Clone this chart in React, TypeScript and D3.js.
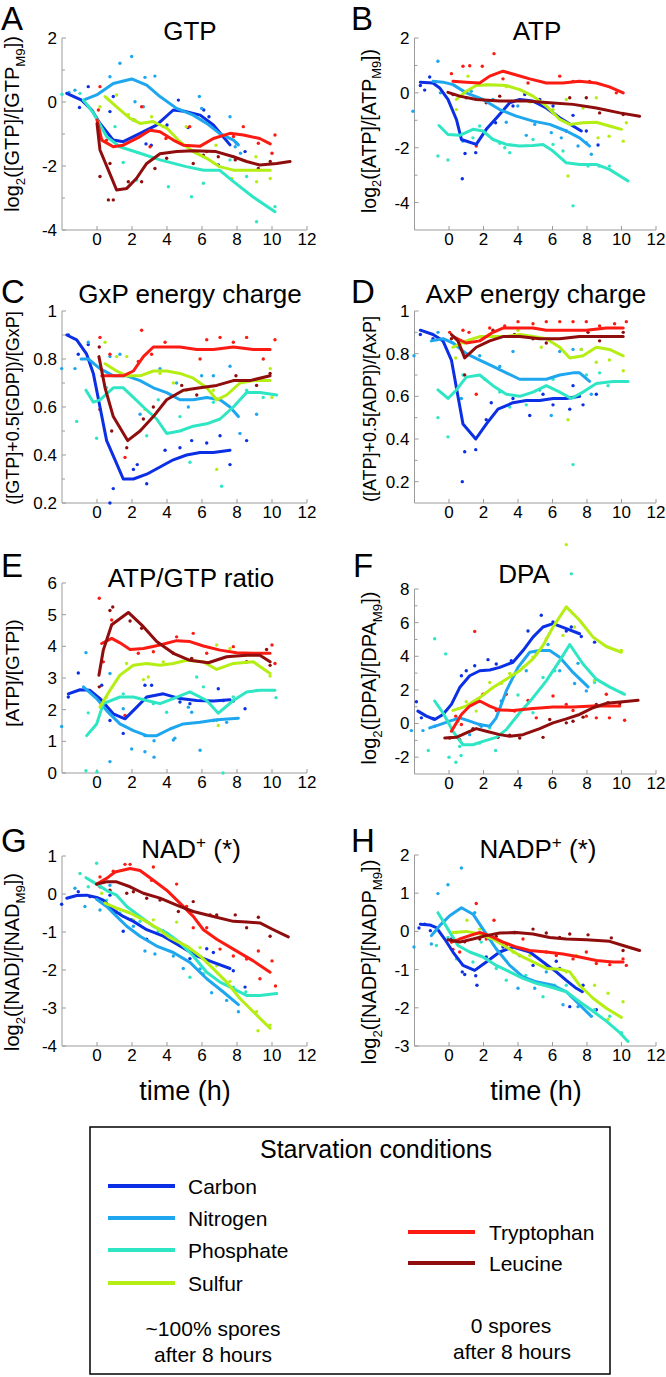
import React from 'react';
import * as d3 from 'd3';

const FONT = '"Liberation Sans", Arial, Helvetica, sans-serif';
const SERIES = ['Carbon', 'Nitrogen', 'Phosphate', 'Sulfur', 'Tryptophan', 'Leucine'];
const COLORS = ['#0b2fe4', '#1ea7ee', '#2fe6c4', '#b5ee14', '#fb1b12', '#8f0d0d'];
const X_TICKS = [0, 2, 4, 6, 8, 10, 12];
const X_DOMAIN: [number, number] = [-2, 12];

type P = [number, number];

// ---------- A: GTP ----------
const gtpLines: P[][] = [
  [[-1.73, 0.27], [-0.88, 0.06], [-0.3, -0.25], [0.17, -0.67], [0.93, -1.19], [1.5, -1.24], [2.46, -0.98], [3.4, -0.72], [4.36, -0.25], [5.1, -0.3], [5.9, -0.41], [6.65, -0.72], [7.2, -1.08], [7.6, -1.34]],
  [[-0.78, 0.06], [-0.02, 0.22], [0.93, 0.58], [1.98, 0.72], [2.84, 0.53], [3.6, 0.17], [4.55, -0.2], [5.5, -0.41], [6.27, -0.67], [7.0, -0.98], [7.8, -1.19], [8.08, -1.34]],
  [[-0.78, 0.06], [-0.2, -0.35], [0.55, -1.08], [1.3, -1.4], [2.46, -1.6], [3.6, -1.81], [5.1, -2.02], [6.1, -2.13], [7.0, -2.13], [7.8, -2.49], [8.9, -2.96], [10.17, -3.43]],
  [[0.46, 0.17], [1.12, -0.15], [1.89, -0.51], [2.46, -0.67], [3.2, -0.61], [4.0, -0.82], [4.74, -1.24], [5.5, -1.55], [6.27, -1.76], [7.0, -2.02], [7.8, -2.13], [8.9, -2.13], [9.9, -2.13]],
  [[0, -0.56], [0.27, -1.19], [0.93, -1.4], [1.5, -1.35], [2.46, -1.08], [3.03, -0.88], [3.6, -0.93], [4.36, -1.19], [4.93, -1.35], [5.9, -1.38], [6.65, -1.14], [7.6, -0.98], [8.36, -1.03], [9.3, -1.14], [9.9, -1.31]],
  [[0, -0.67], [0.17, -1.5], [0.65, -2.13], [1.12, -2.75], [1.7, -2.7], [2.25, -2.39], [2.84, -1.92], [3.6, -1.62], [4.55, -1.55], [5.5, -1.52], [6.8, -1.55], [7.8, -1.71], [8.55, -1.86], [9.3, -1.97], [10.27, -1.92], [11.03, -1.86]],
];
const gtpDots: P[][] = [
  [[-1.0, -0.17], [-0.5, 0.48], [0.74, -0.3], [0.93, 0.17], [2.08, -0.56], [2.8, -1.31], [3.1, -1.35], [4.0, -0.72], [4.65, 0.06], [5.2, -0.8], [6.1, -0.25], [6.4, -0.46], [6.93, -1.97], [7.98, -1.29], [8.46, -1.55]],
  [[-1.26, 0.37], [-1.6, 0.3], [0.74, 0.79], [1.31, 1.21], [1.98, 1.42], [2.74, 0.77], [3.31, 0.81], [2.17, 0.01], [2.65, -0.15], [4.74, -0.25], [5.85, 0.17], [5.98, -0.2], [7.6, -0.46], [7.9, -1.4], [8.2, -1.6]],
  [[-2.0, 0.24], [-0.97, 0.27], [1.03, -0.77], [1.5, -1.89], [2.27, -2.44], [4.08, -2.65], [5.4, -2.96], [6.08, -2.54], [7.6, -1.81], [8.55, -2.33], [9.12, -3.74], [10.17, -3.27]],
  [[0.17, -0.15], [1.12, 0.22], [1.79, -0.4], [2.17, -0.56], [3.12, -0.46], [3.79, -0.77], [5.1, -0.77], [5.7, -1.6], [6.8, -1.35], [7.7, -2.39], [9.08, -1.71], [9.12, -2.49], [9.9, -2.39]],
  [[0.08, -0.25], [0.17, 0.48], [0.55, -1.19], [2.55, -0.15], [3.03, -1.4], [3.94, -1.14], [5.3, -0.77], [6.27, -1.55], [7.8, -1.08], [8.36, -0.77], [9.22, -1.29], [10.17, -1.03], [10.0, -1.6]],
  [[0.17, -2.33], [0.74, -1.92], [0.65, -3.06], [0.93, -3.06], [1.79, -2.49], [2.55, -2.49], [3.31, -2.08], [3.98, -1.76], [5.5, -1.92], [6.08, -1.66], [6.93, -1.71], [7.9, -1.81], [9.22, -2.08], [9.9, -1.86]],
];

// ---------- B: ATP ----------
const atpLines: P[][] = [
  [[-1.66, 0.39], [-0.93, 0.36], [-0.54, 0.18], [-0.06, -0.24], [0.43, -0.97], [0.72, -1.7], [1.58, -1.88], [2.16, -1.33], [2.84, -0.85], [3.52, -0.36], [4.1, -0.24], [4.87, -0.3], [5.64, -0.55], [6.42, -0.91], [7.19, -1.21], [7.67, -1.39]],
  [[-0.93, 0.42], [-0.35, 0.39], [0.23, 0.3], [1.0, 0.0], [1.97, -0.24], [2.94, -0.61], [3.9, -0.85], [4.87, -1.03], [5.84, -1.15], [6.8, -1.39], [7.57, -1.64], [8.15, -1.94]],
  [[-0.58, -1.19], [-0.06, -1.52], [0.62, -1.55], [1.39, -1.33], [1.97, -1.39], [2.55, -1.7], [3.32, -1.88], [4.1, -1.94], [4.87, -1.92], [5.45, -1.88], [6.03, -2.12], [6.8, -2.55], [7.57, -2.61], [8.54, -2.61], [9.3, -2.79], [10.38, -3.21]],
  [[0.43, -0.24], [1.0, 0.06], [1.58, 0.27], [2.36, 0.3], [3.3, 0.27], [4.1, 0.12], [4.87, -0.12], [5.64, -0.48], [6.42, -0.97], [7.0, -1.15], [7.77, -1.09], [8.54, -1.07], [9.3, -1.21], [10.0, -1.33]],
  [[0.23, 0.42], [1.0, 0.39], [1.78, 0.36], [2.36, 0.61], [3.13, 0.79], [3.8, 0.67], [4.68, 0.51], [5.64, 0.36], [6.6, 0.36], [7.57, 0.42], [8.54, 0.36], [9.3, 0.22], [10.1, 0.0]],
  [[-0.06, 0.02], [0.62, -0.12], [1.58, -0.24], [2.94, -0.3], [4.48, -0.3], [5.84, -0.36], [7.19, -0.42], [8.54, -0.55], [9.9, -0.73], [11.05, -0.85]],
];
const atpDots: P[][] = [
  [[-1.66, 0.27], [-1.41, 0.1], [-1.12, 0.58], [0.77, -3.13], [0.93, -2.21], [1.55, -2.18], [2.7, -1.09], [3.71, -0.48], [4.39, -0.06], [5.26, -0.24], [6.03, -0.48], [6.8, -1.39], [7.19, -0.82], [7.96, -1.39], [8.64, -1.9]],
  [[-2.09, -0.67], [-0.64, 1.15], [-0.5, 0.0], [0.81, -1.76], [1.29, 0.06], [2.55, -0.24], [3.32, -1.07], [3.99, -0.48], [4.48, -1.55], [4.97, -1.15], [5.93, -1.45], [6.51, -1.64], [7.48, -1.94], [8.25, -2.24], [7.96, -1.82]],
  [[-0.64, -2.3], [-0.06, -2.45], [1.39, -1.64], [1.78, -1.21], [2.94, -1.84], [3.23, -2.0], [3.52, -2.18], [4.87, -1.7], [6.03, -1.88], [6.61, -2.12], [7.19, -4.12], [8.06, -2.67], [8.7, -2.67], [9.3, -2.67]],
  [[0.43, -0.61], [1.1, 0.61], [2.16, 0.3], [3.32, 0.22], [4.68, -0.33], [6.03, -0.61], [6.8, -0.24], [7.77, -0.55], [8.54, -0.18], [8.64, -1.64], [9.28, -1.58], [10.1, -1.76], [10.28, -1.09], [6.9, -3.03]],
  [[0.14, 0.7], [0.81, 0.97], [1.2, 0.99], [1.93, 0.97], [2.61, 1.43], [3.13, 0.51], [4.58, 0.36], [6.42, 0.61], [7.19, 0.42], [8.15, 0.42], [9.7, 0.0], [1.58, -1.94]],
  [[0.23, -0.06], [1.0, -0.18], [2.16, -0.36], [2.94, -0.12], [5.26, -0.36], [7.0, -0.18], [7.96, -0.18], [8.73, -0.73], [10.1, -0.79]],
];

// ---------- C: GxP energy charge ----------
const gxpLines: P[][] = [
  [[-1.73, 0.9], [-1.16, 0.88], [-0.59, 0.82], [-0.21, 0.74], [0.17, 0.6], [0.55, 0.46], [1.03, 0.38], [1.5, 0.3], [2.08, 0.3], [2.84, 0.32], [3.6, 0.35], [4.36, 0.38], [5.12, 0.4], [5.89, 0.41], [6.65, 0.41], [7.6, 0.42]],
  [[-0.91, 0.8], [-0.5, 0.8], [0.17, 0.76], [0.93, 0.73], [1.7, 0.73], [2.46, 0.71], [3.22, 0.68], [3.98, 0.66], [4.74, 0.63], [5.5, 0.63], [6.27, 0.64], [7.03, 0.63], [7.6, 0.6], [8.08, 0.56]],
  [[-0.63, 0.67], [-0.21, 0.62], [0.17, 0.63], [0.93, 0.68], [1.5, 0.68], [2.08, 0.64], [2.65, 0.6], [3.41, 0.55], [3.98, 0.49], [4.74, 0.5], [5.5, 0.52], [6.27, 0.53], [7.03, 0.55], [7.79, 0.6], [8.55, 0.66], [9.31, 0.66], [10.27, 0.65]],
  [[0.46, 0.78], [1.12, 0.75], [1.7, 0.73], [2.46, 0.73], [3.22, 0.75], [3.98, 0.75], [4.74, 0.74], [5.5, 0.72], [6.27, 0.68], [6.84, 0.63], [7.41, 0.65], [8.17, 0.7], [8.93, 0.71], [9.89, 0.71]],
  [[0.27, 0.73], [0.93, 0.73], [1.5, 0.73], [2.08, 0.75], [2.65, 0.81], [3.22, 0.85], [3.98, 0.85], [4.74, 0.85], [5.7, 0.84], [6.65, 0.84], [7.79, 0.85], [8.93, 0.84], [9.89, 0.84]],
  [[0.11, 0.81], [0.46, 0.68], [0.93, 0.56], [1.75, 0.46], [2.46, 0.5], [3.22, 0.56], [3.98, 0.63], [4.93, 0.67], [5.89, 0.68], [6.84, 0.69], [7.79, 0.71], [8.74, 0.71], [9.89, 0.73]],
];
const gxpDots: P[][] = [
  [[-1.64, 0.9], [-1.07, 0.82], [-0.5, 0.86], [0.74, 0.2], [0.93, 0.26], [2.08, 0.34], [2.3, 0.36], [2.84, 0.28], [3.89, 0.42], [4.74, 0.43], [5.41, 0.46], [6.27, 0.45], [7.03, 0.48], [7.6, 0.36], [8.55, 0.46]],
  [[-2.02, 0.76], [-1.26, 0.76], [-0.5, 0.87], [0.74, 0.81], [1.31, 0.82], [2.46, 0.57], [3.6, 0.76], [4.55, 0.7], [5.22, 0.6], [5.98, 0.73], [6.65, 0.73], [7.6, 0.77], [8.17, 0.49], [9.12, 0.57]],
  [[-1.16, 0.54], [-0.02, 0.47], [0.55, 0.68], [2.84, 0.48], [3.5, 0.63], [4.74, 0.56], [5.31, 0.37], [6.65, 0.62], [7.12, 0.27], [8.55, 0.67], [9.5, 0.64]],
  [[0.46, 0.87], [1.12, 0.81], [1.7, 0.81], [2.74, 0.59], [3.6, 0.74], [4.36, 0.7], [5.12, 0.67], [6.65, 0.67], [6.84, 0.34], [7.79, 0.71], [9.12, 0.71], [10.0, 0.64], [9.9, 0.76]],
  [[0.17, 0.89], [0.74, 0.82], [1.6, 0.39], [2.36, 0.79], [2.55, 0.92], [3.12, 0.82], [3.89, 0.87], [5.89, 0.8], [6.27, 0.88], [7.03, 0.89], [7.79, 0.87], [8.55, 0.89], [9.5, 0.8], [10.17, 0.88]],
  [[0.13, 0.85], [0.17, 0.59], [0.84, 0.5], [1.7, 0.43], [2.65, 0.55], [3.22, 0.6], [4.84, 0.69], [5.7, 0.65], [7.94, 0.73], [9.12, 0.69], [9.89, 0.74]],
];

// ---------- D: AxP energy charge ----------
const axpLines: P[][] = [
  [[-1.66, 0.91], [-0.93, 0.89], [-0.35, 0.86], [0.14, 0.77], [0.81, 0.47], [1.55, 0.4], [2.16, 0.47], [2.84, 0.54], [3.71, 0.57], [4.48, 0.58], [5.26, 0.58], [6.03, 0.59], [6.8, 0.59], [7.57, 0.6]],
  [[-1.02, 0.86], [-0.35, 0.87], [0.23, 0.85], [1.0, 0.8], [1.78, 0.77], [2.55, 0.74], [3.32, 0.71], [4.1, 0.68], [4.87, 0.68], [5.64, 0.68], [6.42, 0.7], [7.19, 0.71], [7.57, 0.71], [8.15, 0.67]],
  [[-0.64, 0.63], [-0.06, 0.59], [0.43, 0.63], [1.0, 0.69], [1.78, 0.7], [2.55, 0.65], [3.32, 0.61], [4.1, 0.6], [4.87, 0.62], [5.64, 0.65], [6.42, 0.62], [7.09, 0.59], [7.77, 0.62], [8.54, 0.66], [9.5, 0.67], [10.38, 0.67]],
  [[0.23, 0.83], [1.0, 0.86], [1.78, 0.88], [2.55, 0.88], [3.32, 0.88], [4.1, 0.89], [4.87, 0.88], [5.64, 0.87], [6.42, 0.83], [7.0, 0.78], [7.77, 0.79], [8.54, 0.83], [9.3, 0.82], [10.1, 0.79]],
  [[0.23, 0.88], [1.0, 0.85], [1.78, 0.86], [2.55, 0.9], [3.13, 0.92], [4.1, 0.92], [4.87, 0.92], [5.64, 0.91], [6.8, 0.91], [7.96, 0.91], [9.12, 0.92], [10.1, 0.92]],
  [[0.14, 0.89], [0.52, 0.86], [0.91, 0.78], [1.58, 0.83], [2.36, 0.86], [3.13, 0.88], [4.1, 0.88], [5.26, 0.87], [6.42, 0.87], [7.57, 0.88], [8.73, 0.88], [10.1, 0.88]],
];
const axpDots: P[][] = [
  [[-1.66, 0.89], [-0.93, 0.87], [0.91, 0.34], [0.77, 0.2], [1.55, 0.35], [2.16, 0.49], [2.45, 0.57], [3.71, 0.59], [4.68, 0.51], [5.45, 0.61], [6.03, 0.56], [7.0, 0.54], [7.19, 0.65], [7.77, 0.56], [8.54, 0.61]],
  [[-2.03, 0.79], [-0.64, 0.9], [0.72, 0.59], [1.78, 0.79], [2.94, 0.74], [3.71, 0.81], [5.26, 0.63], [5.93, 0.51], [6.42, 0.81], [7.19, 0.82], [7.67, 0.82], [8.25, 0.61]],
  [[-0.64, 0.5], [-0.06, 0.41], [0.81, 0.7], [2.07, 0.68], [2.94, 0.62], [3.52, 0.55], [4.48, 0.56], [6.03, 0.68], [7.19, 0.28], [7.96, 0.7], [8.73, 0.71], [9.22, 0.65]],
  [[0.39, 0.78], [0.91, 0.85], [2.36, 0.89], [4.0, 0.91], [5.35, 0.83], [6.9, 0.49], [7.67, 0.82], [8.54, 0.76], [9.3, 0.77], [10.1, 0.72]],
  [[0.04, 0.9], [0.81, 0.91], [1.16, 0.9], [1.58, 0.61], [2.36, 0.92], [3.23, 0.93], [4.0, 0.95], [4.87, 0.94], [5.64, 0.95], [6.42, 0.95], [7.19, 0.95], [7.96, 0.95], [8.73, 0.93], [9.6, 0.94], [10.28, 0.95]],
  [[0.14, 0.87], [0.91, 0.7], [2.55, 0.91], [3.8, 0.89], [4.87, 0.87], [5.64, 0.85], [8.06, 0.9], [8.73, 0.86], [10.1, 0.9]],
];

// ---------- E: ATP/GTP ratio ----------
const ratioLines: P[][] = [
  [[-1.64, 2.5], [-0.97, 2.63], [-0.4, 2.61], [0.17, 2.35], [0.93, 1.87], [1.6, 1.71], [2.27, 2.08], [2.84, 2.4], [3.79, 2.5], [4.74, 2.35], [5.7, 2.29], [6.65, 2.27], [7.6, 2.31]],
  [[-0.78, 2.72], [-0.02, 2.35], [0.55, 1.97], [1.31, 1.55], [2.08, 1.34], [2.84, 1.18], [3.41, 1.18], [4.17, 1.39], [4.93, 1.55], [5.89, 1.6], [6.84, 1.68], [8.08, 1.73]],
  [[-0.59, 1.18], [-0.02, 1.55], [0.36, 2.19], [1.31, 2.4], [2.08, 2.4], [2.84, 2.29], [3.6, 2.19], [4.36, 2.35], [5.31, 2.56], [6.27, 2.29], [6.93, 1.89], [7.79, 2.29], [8.55, 2.56], [9.31, 2.61], [10.17, 2.61]],
  [[0.17, 2.08], [0.74, 2.61], [1.31, 3.09], [2.08, 3.4], [2.84, 3.46], [3.6, 3.4], [4.36, 3.46], [5.12, 3.56], [6.08, 3.51], [6.84, 3.27], [7.79, 3.46], [8.93, 3.51], [9.89, 3.14]],
  [[0.27, 4.09], [0.84, 4.25], [1.31, 4.11], [1.89, 3.9], [2.65, 3.93], [3.6, 4.04], [4.55, 4.18], [5.31, 4.15], [6.08, 4.01], [7.03, 3.88], [7.98, 3.8], [8.93, 3.78], [9.89, 3.78]],
  [[0.11, 3.09], [0.36, 3.88], [0.84, 4.68], [1.79, 5.07], [2.65, 4.62], [3.41, 4.15], [4.36, 3.78], [5.31, 3.56], [6.36, 3.48], [7.41, 3.67], [8.55, 3.72], [9.31, 3.72], [9.89, 3.51]],
];
const ratioDots: P[][] = [
  [[-1.64, 2.4], [-1.07, 3.16], [0.27, 2.77], [0.74, 1.66], [1.5, 1.25], [2.74, 2.77], [3.12, 2.77], [4.74, 2.24], [5.31, 2.19], [6.93, 2.66], [7.22, 2.29], [7.79, 2.27], [8.46, 2.03]],
  [[-2.02, 1.47], [-0.63, 3.8], [0.74, 3.14], [1.5, 2.03], [1.98, 0.76], [2.74, 1.18], [3.26, 1.02], [4.36, 1.04], [5.22, 2.08], [5.41, 1.92], [5.89, 0.72], [6.65, 1.66], [7.41, 1.6], [0.74, 0.36], [2.74, 0.67], [3.26, 0.5], [4.45, 1.1]],
  [[1.5, 2.5], [3.22, 2.19], [3.98, 1.92], [5.7, 3.03], [6.08, 2.72], [6.84, 1.66], [7.79, 2.4], [9.12, 2.61], [10.23, 2.38], [-0.63, 0.07], [0.0, 0.04], [7.2, 0.0], [-0.5, 1.9]],
  [[0.55, 2.4], [1.69, 3.46], [2.65, 2.95], [2.93, 3.03], [3.79, 3.51], [5.22, 3.56], [6.84, 4.04], [6.93, 1.5], [7.6, 3.93], [8.46, 3.72], [9.89, 3.06]],
  [[0.13, 5.52], [0.36, 3.51], [0.84, 4.83], [1.6, 1.82], [2.36, 3.78], [3.22, 3.83], [4.55, 4.3], [5.5, 4.41], [6.27, 3.78], [7.79, 3.99], [8.55, 3.51], [10.0, 4.04], [10.17, 3.46]],
  [[0.13, 2.72], [0.74, 5.13], [0.9, 5.24], [1.89, 4.8], [2.55, 4.57], [4.36, 3.78], [5.41, 3.62], [6.36, 3.46], [8.55, 3.51], [9.69, 3.9], [9.89, 3.4]],
];

// ---------- F: DPA ----------
const dpaLines: P[][] = [
  [[-1.8, 0.74], [-1.31, 0.44], [-0.83, 0.24], [-0.35, 0.54], [0.14, 1.14], [0.62, 2.14], [1.2, 2.84], [1.78, 3.14], [2.36, 3.18], [2.94, 3.34], [3.71, 3.64], [4.29, 4.34], [4.87, 5.14], [5.45, 5.74], [6.03, 5.94], [6.8, 5.64], [7.57, 5.34]],
  [[-1.12, -0.26], [-0.54, -0.06], [0.04, 0.14], [0.62, 0.34], [1.2, 0.14], [1.78, -0.06], [2.36, -0.16], [2.74, 0.34], [3.32, 1.94], [4.0, 3.34], [4.68, 4.24], [5.26, 4.34], [5.84, 4.34], [6.42, 3.94], [7.19, 3.04], [8.06, 2.18]],
  [[-0.83, 1.34], [-0.35, 0.64], [0.23, -0.46], [0.81, -1.26], [1.39, -1.26], [1.97, -1.06], [2.74, -0.82], [3.32, -0.36], [4.1, 0.64], [4.87, 1.54], [5.64, 2.54], [6.42, 3.74], [7.0, 4.7], [7.77, 3.54], [8.54, 2.64], [9.3, 2.18], [10.18, 1.74]],
  [[0.23, 0.78], [1.0, 1.04], [1.78, 1.54], [2.55, 2.14], [3.32, 2.64], [4.1, 3.14], [4.87, 3.84], [5.45, 4.64], [6.03, 5.74], [6.8, 6.94], [7.57, 6.14], [8.35, 5.14], [9.12, 4.58], [9.99, 4.24]],
  [[0.14, -0.46], [0.72, 0.54], [1.2, 1.04], [1.78, 1.34], [2.36, 1.04], [2.94, 0.8], [3.71, 0.78], [4.87, 0.9], [6.03, 0.98], [7.19, 0.98], [8.35, 1.04], [9.9, 1.04]],
  [[-0.25, -0.86], [0.43, -0.82], [1.0, -0.56], [1.58, -0.3], [2.16, -0.46], [2.94, -0.66], [3.52, -0.76], [4.29, -0.66], [5.26, -0.3], [6.03, 0.04], [6.8, 0.28], [7.57, 0.54], [8.35, 0.94], [9.12, 1.2], [10.09, 1.3], [10.96, 1.38]],
];
const dpaDots: P[][] = [
  [[-1.89, 1.3], [-1.6, 0.34], [-0.93, 0.3], [0.72, 2.84], [1.0, 3.14], [1.49, 3.44], [2.26, 3.8], [2.74, 3.54], [3.61, 3.74], [4.58, 5.5], [5.35, 6.44], [6.03, 6.04], [6.8, 5.5], [7.09, 5.74], [7.67, 5.18], [8.44, 4.84]],
  [[-2.18, -0.42], [-1.51, -0.42], [-0.83, -0.16], [-0.06, 0.14], [1.2, -0.66], [1.87, -0.16], [3.03, 1.34], [3.8, 2.94], [4.48, 3.14], [5.06, 4.14], [5.74, 4.7], [6.42, 3.14], [7.28, 2.38], [7.96, 1.94], [7.48, 3.58]],
  [[-0.83, 5.04], [-0.19, 4.14], [0.52, 0.14], [0.62, -1.36], [1.78, -1.16], [2.36, -0.26], [4.0, 1.7], [4.87, 0.64], [5.45, 2.74], [6.13, 3.14], [7.09, 8.9], [8.44, 2.44], [9.99, 1.84], [-1.2, -1.6], [0.0, -2.0], [0.4, -2.3], [0.7, -1.9], [2.7, -1.6]],
  [[1.0, 1.3], [1.58, 0.74], [2.36, 2.44], [3.03, 2.38], [3.52, 2.98], [4.29, 3.34], [4.87, 3.94], [5.64, 5.04], [6.61, 5.24], [6.8, 10.64], [7.28, 5.74], [8.44, 2.58], [9.99, 4.34]],
  [[0.39, 0.44], [0.72, -0.06], [1.49, 5.48], [1.97, 1.74], [2.74, 0.78], [3.32, 1.74], [3.8, 0.74], [4.58, 1.38], [5.06, 0.34], [6.03, 1.64], [6.8, 1.14], [7.19, 0.78], [7.96, 0.44], [8.54, 0.34], [9.12, 1.74], [9.3, 0.34], [10.18, 0.2]],
  [[0.04, -0.86], [0.62, -0.96], [1.39, -0.3], [1.78, -0.06], [2.84, -0.82], [3.52, -0.7], [4.1, -0.86], [5.45, -0.82], [5.84, 0.24], [6.8, 0.04], [7.19, 0.14], [7.77, 0.38], [8.54, 1.14], [9.22, 1.24], [9.9, 1.18]],
];

// ---------- G: NAD+ ----------
const nadLines: P[][] = [
  [[-1.73, -0.11], [-1.16, -0.04], [-0.59, -0.03], [-0.02, -0.09], [0.36, -0.16], [0.93, -0.42], [1.5, -0.59], [2.08, -0.72], [2.84, -0.94], [3.79, -1.11], [4.74, -1.37], [5.7, -1.63], [6.65, -1.8], [7.6, -1.96]],
  [[-0.02, -0.14], [0.55, -0.33], [1.12, -0.59], [1.7, -0.85], [2.46, -1.11], [3.41, -1.37], [4.36, -1.54], [5.31, -1.8], [6.27, -2.23], [7.22, -2.58], [8.08, -2.91]],
  [[-0.63, 0.43], [-0.02, 0.26], [0.55, 0.09], [1.12, -0.03], [1.7, -0.33], [2.46, -0.59], [3.22, -0.85], [3.98, -1.02], [4.74, -1.28], [5.5, -1.63], [6.27, -2.06], [7.03, -2.32], [7.79, -2.49], [8.55, -2.67], [9.31, -2.67], [10.27, -2.62]],
  [[0.46, -0.24], [1.12, -0.37], [1.89, -0.5], [2.65, -0.68], [3.41, -0.89], [4.17, -1.15], [5.12, -1.37], [5.89, -1.63], [6.65, -1.97], [7.41, -2.32], [8.17, -2.75], [8.93, -3.1], [9.89, -3.53]],
  [[-0.02, 0.26], [0.55, 0.41], [1.03, 0.58], [1.89, 0.67], [2.46, 0.62], [3.22, 0.36], [3.98, 0.1], [4.74, -0.24], [5.5, -0.59], [6.08, -0.94], [6.84, -1.19], [7.79, -1.45], [8.93, -1.76], [9.89, -2.06]],
  [[-0.02, 0.26], [0.55, 0.32], [1.12, 0.32], [1.89, 0.19], [2.65, 0.02], [3.6, -0.11], [4.55, -0.29], [5.5, -0.46], [6.65, -0.59], [7.79, -0.72], [8.55, -0.74], [9.31, -0.76], [10.08, -0.94], [10.93, -1.13]],
];
const nadDots: P[][] = [
  [[-2.02, -0.27], [-1.07, 0.06], [-0.4, -0.07], [0.74, -0.03], [1.03, -0.5], [1.5, -0.98], [1.98, -0.68], [2.84, -1.19], [3.79, -0.98], [5.31, -1.7], [6.27, -1.44], [6.65, -1.54], [7.79, -2.02], [8.46, -2.45]],
  [[-1.26, 0.15], [-0.69, -0.33], [0.17, -0.42], [0.74, 0.23], [2.08, -0.85], [2.74, -1.5], [3.31, -1.58], [4.36, -1.63], [4.93, -1.96], [5.89, -1.97], [6.55, -2.6], [7.41, -2.8], [8.08, -3.1]],
  [[-0.97, 0.54], [-0.02, 0.81], [-0.5, 0.19], [0.55, -0.16], [1.31, -0.5], [2.46, -0.72], [3.5, -0.98], [4.74, -1.35], [5.31, -2.19], [6.08, -2.1], [7.79, -2.45], [8.5, -2.58]],
  [[0.27, 0.02], [0.74, -0.33], [1.12, -0.42], [2.08, -0.68], [3.22, -0.68], [3.98, -1.11], [4.55, -0.74], [5.89, -1.41], [6.84, -1.89], [7.6, -2.3], [9.12, -3.1], [9.89, -3.45], [9.2, -3.6]],
  [[0.17, 0.45], [0.93, 0.6], [1.6, 0.78], [1.89, 0.78], [3.22, 0.71], [3.12, 0.36], [4.55, 0.26], [5.12, -0.33], [5.5, -0.89], [6.27, -0.89], [7.03, -1.45], [7.79, -1.63], [8.55, -1.71], [9.22, -1.5], [9.31, -2.23], [10.0, -1.76], [10.2, -2.42]],
  [[0.17, 0.19], [0.74, 0.1], [1.7, 0.02], [2.08, 0.06], [2.84, -0.11], [3.6, -0.16], [4.65, -0.46], [5.5, -0.2], [6.46, -0.55], [6.84, -0.55], [7.9, -0.55], [8.55, -0.89], [9.22, -0.61], [9.89, -1.11]],
];

// ---------- H: NADP+ ----------
const nadpLines: P[][] = [
  [[-1.66, 0.19], [-1.12, 0.17], [-0.73, 0.1], [-0.25, -0.2], [0.23, -0.54], [0.81, -0.89], [1.49, -1.02], [2.16, -0.8], [2.94, -0.54], [3.71, -0.41], [4.68, -0.54], [5.45, -0.8], [6.22, -1.06], [6.8, -1.28], [7.38, -1.49], [7.73, -1.58]],
  [[-1.02, -0.11], [-0.54, 0.15], [0.04, 0.41], [0.72, 0.62], [1.39, 0.45], [1.97, 0.06], [2.74, -0.46], [3.52, -0.89], [4.29, -1.19], [5.06, -1.32], [6.03, -1.41], [6.8, -1.58], [7.57, -1.92], [8.15, -2.18]],
  [[-0.64, 0.49], [-0.06, 0.06], [0.52, -0.37], [1.2, -0.54], [1.97, -0.67], [2.74, -0.89], [3.52, -1.06], [4.29, -1.23], [5.06, -1.36], [5.84, -1.45], [6.8, -1.58], [7.57, -1.84], [8.35, -2.09], [9.12, -2.35], [9.9, -2.65], [10.38, -2.88]],
  [[0.23, -0.03], [1.0, 0.0], [1.78, -0.07], [2.55, -0.2], [3.32, -0.41], [4.1, -0.63], [4.87, -0.8], [5.64, -0.97], [6.42, -0.99], [7.0, -1.06], [7.57, -1.41], [8.35, -1.75], [9.12, -2.01], [9.99, -2.25]],
  [[0.14, -0.28], [0.62, -0.2], [1.2, -0.11], [1.78, -0.03], [2.36, -0.11], [3.13, -0.28], [3.9, -0.41], [4.68, -0.5], [5.64, -0.54], [6.61, -0.59], [7.57, -0.67], [8.54, -0.76], [9.5, -0.8], [10.09, -0.8]],
  [[-0.06, -0.22], [0.62, -0.28], [1.39, -0.2], [2.16, -0.11], [2.94, -0.04], [3.9, -0.03], [4.87, -0.07], [5.84, -0.16], [6.8, -0.2], [7.96, -0.22], [9.31, -0.26], [10.09, -0.37], [11.05, -0.5]],
];
const nadpDots: P[][] = [
  [[-1.74, 0.09], [-1.41, 0.19], [-1.08, 0.02], [0.14, -0.2], [0.77, -1.06], [0.91, -1.13], [1.55, -1.16], [1.62, -1.41], [2.16, -0.67], [3.13, -0.41], [3.81, -0.03], [4.1, -0.63], [4.87, -0.89], [6.22, -0.78], [6.42, -0.97], [7.0, -1.97], [7.77, -1.41], [8.54, -2.05]],
  [[-2.03, -0.41], [-1.02, -0.33], [-0.64, 0.99], [-0.06, 1.22], [0.72, 1.66], [1.49, 0.49], [2.36, -0.2], [3.71, -0.03], [4.0, -1.49], [4.97, -1.49], [5.64, -1.06], [6.61, -1.92], [7.48, -1.97], [8.25, -2.22]],
  [[-0.73, -0.37], [-0.06, -0.16], [0.43, -0.72], [1.39, -0.8], [1.87, -0.28], [2.74, -0.97], [3.32, -1.28], [4.45, -1.15], [5.45, -1.71], [6.13, -1.41], [6.8, -1.41], [8.44, -2.05], [9.32, -2.22], [10.0, -2.65]],
  [[0.43, -0.03], [1.04, 0.29], [1.78, 0.06], [2.55, -0.16], [3.71, -0.54], [4.68, -0.63], [5.64, -0.89], [6.8, -1.06], [7.38, -0.63], [8.44, -1.41], [9.22, -1.62], [10.09, -1.84], [9.22, -2.3]],
  [[0.23, -0.47], [0.62, -0.54], [1.58, 0.73], [2.16, -0.2], [2.61, 0.29], [3.32, -0.37], [4.29, -0.2], [5.64, -0.54], [6.22, -0.63], [7.19, -0.72], [7.96, -0.54], [8.54, -0.84], [9.32, -0.87], [10.09, -0.72], [10.28, -0.89]],
  [[0.14, -0.27], [0.91, -0.27], [1.78, -0.2], [2.74, -0.13], [3.81, -0.03], [4.87, 0.06], [5.64, -0.04], [6.42, -0.16], [7.0, -0.07], [8.06, -0.09], [9.41, -0.17], [10.09, -0.5]],
];

// ---------- tick values ----------
const gtpTicks = [-4, -2, 0, 2];
const atpTicks = [-4, -2, 0, 2];
const chargeTicks = [0.2, 0.4, 0.6, 0.8, 1];
const ratioTicks = [0, 1, 2, 3, 4, 5, 6];
const dpaTicks = [-2, 0, 2, 4, 6, 8];
const nadTicks = [-4, -3, -2, -1, 0, 1];
const nadpTicks = [-3, -2, -1, 0, 1, 2];

type Seg = [string, 'n' | 'sub' | 'sup'];

interface PanelCfg {
  letter: string;
  letterX: number;
  letterY: number;
  title: Seg[];
  titleX: number;
  titleY: number;
  xRange: [number, number];
  yDomain: [number, number];
  yRange: [number, number];
  ticks: number[];
  minor: number[];
  ylabel: Seg[];
  ylabelX: number;
  ylabelY: number;
  ylabelSize: number;
  lines: P[][];
  dots: P[][];
}

const LEFT: [number, number] = [62, 307];
const RIGHT: [number, number] = [414.5, 656];

const PANELS: PanelCfg[] = [
  { letter: 'A', letterX: 1, letterY: 30, title: [['GTP', 'n']], titleX: 190, titleY: 40, xRange: LEFT, yDomain: [-4, 2], yRange: [230, 38], ticks: gtpTicks, minor: [-3, -1, 1], ylabel: [['log', 'n'], ['2', 'sub'], ['([GTP]/[GTP', 'n'], ['M9', 'sub'], ['])', 'n']], ylabelX: 19, ylabelY: 124, ylabelSize: 20, lines: gtpLines, dots: gtpDots },
  { letter: 'B', letterX: 351, letterY: 30, title: [['ATP', 'n']], titleX: 537, titleY: 40, xRange: RIGHT, yDomain: [-5, 2], yRange: [230, 38], ticks: atpTicks, minor: [-3, -1, 1], ylabel: [['log', 'n'], ['2', 'sub'], ['([ATP]/[ATP', 'n'], ['M9', 'sub'], ['])', 'n']], ylabelX: 376, ylabelY: 131, ylabelSize: 19.5, lines: atpLines, dots: atpDots },
  { letter: 'C', letterX: 1, letterY: 303, title: [['GxP energy charge', 'n']], titleX: 190, titleY: 303, xRange: LEFT, yDomain: [0.2, 1], yRange: [503, 311], ticks: chargeTicks, minor: [0.3, 0.5, 0.7, 0.9], ylabel: [['([GTP]+0.5[GDP])/[GxP]', 'n']], ylabelX: 19, ylabelY: 408, ylabelSize: 18, lines: gxpLines, dots: gxpDots },
  { letter: 'D', letterX: 351, letterY: 303, title: [['AxP energy charge', 'n']], titleX: 536, titleY: 303, xRange: RIGHT, yDomain: [0.1, 1], yRange: [503, 311], ticks: chargeTicks, minor: [0.3, 0.5, 0.7, 0.9], ylabel: [['([ATP]+0.5[ADP])/[AxP]', 'n']], ylabelX: 376, ylabelY: 409, ylabelSize: 18, lines: axpLines, dots: axpDots },
  { letter: 'E', letterX: 1, letterY: 577, title: [['ATP/GTP ratio', 'n']], titleX: 191, titleY: 587, xRange: LEFT, yDomain: [0, 6], yRange: [773, 583], ticks: ratioTicks, minor: [], ylabel: [['[ATP]/[GTP])', 'n']], ylabelX: 19, ylabelY: 673, ylabelSize: 19, lines: ratioLines, dots: ratioDots },
  { letter: 'F', letterX: 353, letterY: 577, title: [['DPA', 'n']], titleX: 524, titleY: 583, xRange: RIGHT, yDomain: [-3, 8], yRange: [774, 589], ticks: dpaTicks, minor: [-1, 1, 3, 5, 7], ylabel: [['log', 'n'], ['2', 'sub'], ['([DPA]/[DPA', 'n'], ['M9', 'sub'], ['])', 'n']], ylabelX: 376, ylabelY: 678, ylabelSize: 20, lines: dpaLines, dots: dpaDots },
  { letter: 'G', letterX: 1, letterY: 852, title: [['NAD', 'n'], ['+', 'sup'], [' (*)', 'n']], titleX: 191, titleY: 858, xRange: LEFT, yDomain: [-4, 1], yRange: [1046, 856], ticks: nadTicks, minor: [], ylabel: [['log', 'n'], ['2', 'sub'], ['([NAD]/[NAD', 'n'], ['M9', 'sub'], ['])', 'n']], ylabelX: 19, ylabelY: 962, ylabelSize: 20, lines: nadLines, dots: nadDots },
  { letter: 'H', letterX: 351, letterY: 852, title: [['NADP', 'n'], ['+', 'sup'], [' (*)', 'n']], titleX: 538, titleY: 858, xRange: RIGHT, yDomain: [-3, 2], yRange: [1046, 855], ticks: nadpTicks, minor: [], ylabel: [['log', 'n'], ['2', 'sub'], ['([NADP]/[NADP', 'n'], ['M9', 'sub'], ['])', 'n']], ylabelX: 376, ylabelY: 962, ylabelSize: 20, lines: nadpLines, dots: nadpDots },
];

const LEFT_LEGEND = [0, 1, 2, 3];
const RIGHT_LEGEND = [4, 5];

function rich(segs: Seg[], size: number) {
  let cur = 0;
  return segs.map(([txt, kind], i) => {
    const target = kind === 'sub' ? size * 0.28 : kind === 'sup' ? -size * 0.4 : 0;
    const dy = target - cur;
    cur = target;
    return (
      <tspan key={i} dy={dy} fontSize={kind === 'n' ? size : size * 0.66}>
        {txt}
      </tspan>
    );
  });
}

const AXIS = '#9b9b9b';

function Panel({ cfg }: { cfg: PanelCfg }) {
  const x = d3.scaleLinear().domain(X_DOMAIN).range(cfg.xRange);
  const y = d3.scaleLinear().domain(cfg.yDomain).range(cfg.yRange);
  const line = d3
    .line<P>()
    .x((d) => x(d[0]))
    .y((d) => y(d[1]))
    .curve(d3.curveLinear);
  const x0 = cfg.xRange[0];
  const x1 = cfg.xRange[1];
  const yb = cfg.yRange[0];
  const yt = cfg.yRange[1];
  return (
    <g>
      <text x={cfg.letterX} y={cfg.letterY} fontSize={33} fontFamily={FONT}>
        {cfg.letter}
      </text>
      <text x={cfg.titleX} y={cfg.titleY} fontSize={26} fontFamily={FONT} textAnchor="middle">
        {rich(cfg.title, 26)}
      </text>
      <line x1={x0} x2={x0} y1={yt} y2={yb} stroke={AXIS} strokeWidth={1} />
      <line x1={x0} x2={x1} y1={yb} y2={yb} stroke={AXIS} strokeWidth={1} />
      {cfg.ticks.map((t) => (
        <g key={'yt' + t}>
          <line x1={x0} x2={x0 + 4} y1={y(t)} y2={y(t)} stroke={AXIS} />
          <text x={x0 - 5} y={y(t)} dy="0.35em" fontSize={17} fontFamily={FONT} textAnchor="end">
            {String(t)}
          </text>
        </g>
      ))}
      {cfg.minor.map((t) => (
        <line key={'ym' + t} x1={x0} x2={x0 + 3} y1={y(t)} y2={y(t)} stroke={AXIS} />
      ))}
      {X_TICKS.map((t) => (
        <g key={'xt' + t}>
          <line x1={x(t)} x2={x(t)} y1={yb} y2={yb - 4} stroke={AXIS} />
          <text x={x(t)} y={yb + 15} fontSize={17} fontFamily={FONT} textAnchor="middle">
            {t}
          </text>
        </g>
      ))}
      <text
        transform={`translate(${cfg.ylabelX},${cfg.ylabelY}) rotate(-90)`}
        fontSize={cfg.ylabelSize}
        fontFamily={FONT}
        textAnchor="middle"
      >
        {rich(cfg.ylabel, cfg.ylabelSize)}
      </text>
      {cfg.dots.map((pts, si) =>
        pts.map((p, i) => <circle key={si + '-' + i} cx={x(p[0])} cy={y(p[1])} r={1.7} fill={COLORS[si]} />)
      )}
      {cfg.lines.map((pts, si) => (
        <path key={'l' + si} d={line(pts) || ''} fill="none" stroke={COLORS[si]} strokeWidth={3} strokeLinejoin="round" strokeLinecap="round" />
      ))}
    </g>
  );
}

export default function App() {
  const legendLeftRowY = [1186, 1218, 1250, 1283];
  const legendRightRowY = [1232, 1263];
  return (
    <svg width={666} height={1377} style={{ position: 'absolute', left: 0, top: 0, background: '#fff' }} fontFamily={FONT}>
      <rect x={0} y={0} width={666} height={1377} fill="#fff" />
      {PANELS.map((p) => (
        <Panel key={p.letter} cfg={p} />
      ))}
      <text x={185} y={1100} fontSize={27} textAnchor="middle">time (h)</text>
      <text x={536} y={1100} fontSize={27} textAnchor="middle">time (h)</text>
      <rect x={90} y={1127} width={520} height={247} fill="none" stroke="#000" strokeWidth={1.5} />
      <text x={376} y={1158} fontSize={25} textAnchor="middle">Starvation conditions</text>
      {LEFT_LEGEND.map((si, i) => (
        <g key={'ll' + si}>
          <line x1={108} x2={175} y1={legendLeftRowY[i]} y2={legendLeftRowY[i]} stroke={COLORS[si]} strokeWidth={4} />
          <text x={188} y={legendLeftRowY[i]} dy="0.36em" fontSize={21}>{SERIES[si]}</text>
        </g>
      ))}
      {RIGHT_LEGEND.map((si, i) => (
        <g key={'lr' + si}>
          <line x1={408} x2={475} y1={legendRightRowY[i]} y2={legendRightRowY[i]} stroke={COLORS[si]} strokeWidth={4} />
          <text x={489} y={legendRightRowY[i]} dy="0.36em" fontSize={21}>{SERIES[si]}</text>
        </g>
      ))}
      <text x={213} y={1336} fontSize={21} textAnchor="middle">~100% spores</text>
      <text x={213} y={1362} fontSize={21} textAnchor="middle">after 8 hours</text>
      <text x={511} y={1333} fontSize={21} textAnchor="middle">0 spores</text>
      <text x={512} y={1359} fontSize={21} textAnchor="middle">after 8 hours</text>
    </svg>
  );
}
